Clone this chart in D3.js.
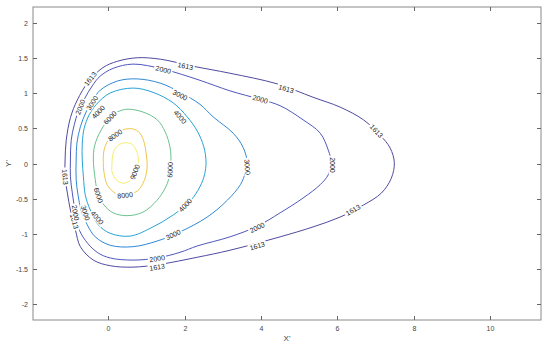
<!DOCTYPE html>
<html><head><meta charset="utf-8">
<script src="https://cdn.jsdelivr.net/npm/d3@7"></script>
<style>body{margin:0;background:#fff}svg{display:block}text{font-family:"Liberation Sans",Arial,sans-serif}</style>
</head><body><svg id="c" width="550" height="347"></svg>
<script>
// ---- data ----
const levels = [1613, 2000, 3000, 4000, 6000, 8000, 9000];
const xTicks = [0, 2, 4, 6, 8, 10];
const yTicks = [-2, -1.5, -1, -0.5, 0, 0.5, 1, 1.5, 2];
const yTickLabels = ["-2", "-1.5", "-1", "-0.5", "0", "0.5", "1", "1.5", "2"];

const c1613 = [[-1.13,0.05],[-1.10,0.33],[-0.99,0.65],[-0.81,0.90],[-0.52,1.16],[-0.14,1.36],[0.24,1.45],[0.76,1.50],[1.36,1.48],[2.22,1.38],[3.19,1.28],[4.42,1.13],[5.36,0.94],[6.07,0.80],[6.68,0.62],[7.12,0.40],[7.38,0.22],[7.49,0.01],[7.41,-0.21],[7.15,-0.42],[6.68,-0.59],[6.07,-0.76],[5.36,-0.90],[4.50,-1.04],[3.19,-1.23],[2.33,-1.33],[1.36,-1.43],[0.65,-1.47],[0.05,-1.45],[-0.39,-1.37],[-0.73,-1.18],[-0.86,-0.94],[-0.99,-0.66],[-1.07,-0.42],[-1.13,-0.19]];
const c2000 = [[-0.99,0.05],[-0.97,0.33],[-0.89,0.55],[-0.79,0.73],[-0.63,0.91],[-0.42,1.10],[-0.21,1.24],[0.13,1.35],[0.65,1.41],[1.43,1.34],[2.40,1.18],[3.19,1.03],[3.98,0.91],[4.50,0.82],[5.10,0.62],[5.55,0.43],[5.76,0.19],[5.84,0.01],[5.76,-0.16],[5.55,-0.30],[5.10,-0.49],[4.50,-0.70],[3.90,-0.89],[3.19,-1.04],[2.33,-1.17],[1.88,-1.26],[1.28,-1.34],[0.65,-1.37],[0.05,-1.34],[-0.29,-1.26],[-0.60,-1.09],[-0.79,-0.90],[-0.86,-0.70],[-0.94,-0.42],[-0.99,-0.19]];
const c3000 = [[-0.84,0.05],[-0.82,0.29],[-0.73,0.52],[-0.58,0.73],[-0.40,0.90],[-0.21,1.04],[0.24,1.17],[0.76,1.20],[1.36,1.14],[1.88,1.01],[2.40,0.84],[2.75,0.66],[3.27,0.43],[3.53,0.23],[3.64,0.01],[3.59,-0.13],[3.46,-0.30],[3.12,-0.52],[2.59,-0.76],[1.88,-0.97],[1.28,-1.10],[0.65,-1.18],[0.05,-1.16],[-0.34,-1.04],[-0.55,-0.87],[-0.71,-0.66],[-0.79,-0.45],[-0.84,-0.23]];
const c4000 = [[-0.68,0.05],[-0.68,0.29],[-0.63,0.50],[-0.50,0.69],[-0.31,0.84],[0.05,1.00],[0.65,1.07],[1.17,1.01],[1.70,0.86],[2.07,0.66],[2.33,0.46],[2.50,0.24],[2.56,0.02],[2.52,-0.16],[2.40,-0.33],[2.15,-0.53],[1.70,-0.73],[1.17,-0.90],[0.57,-1.03],[0.05,-0.99],[-0.26,-0.87],[-0.47,-0.66],[-0.60,-0.45],[-0.65,-0.19]];
const c6000 = [[-0.39,0.05],[-0.37,0.22],[-0.29,0.36],[-0.16,0.50],[0.05,0.65],[0.24,0.73],[0.49,0.77],[0.91,0.73],[1.28,0.62],[1.49,0.45],[1.62,0.22],[1.64,0.01],[1.59,-0.21],[1.49,-0.35],[1.28,-0.52],[0.91,-0.69],[0.49,-0.74],[0.13,-0.70],[-0.11,-0.59],[-0.26,-0.45],[-0.34,-0.23]];
const c8000 = [[-0.13,0.01],[-0.11,0.19],[0.00,0.33],[0.18,0.42],[0.39,0.48],[0.65,0.49],[0.83,0.43],[0.94,0.30],[0.99,0.15],[1.02,-0.02],[0.99,-0.16],[0.91,-0.28],[0.76,-0.39],[0.44,-0.45],[0.18,-0.42],[-0.03,-0.30],[-0.11,-0.13]];
const c9000 = [[0.10,0.01],[0.13,0.15],[0.24,0.25],[0.39,0.29],[0.60,0.28],[0.73,0.19],[0.79,0.05],[0.73,-0.12],[0.60,-0.23],[0.39,-0.28],[0.21,-0.23],[0.10,-0.12]];
const contourLines = [c1613, c2000, c3000, c4000, c6000, c8000, c9000];

const l1613 = [[-0.47,1.20],[2.02,1.38],[4.66,1.06],[7.02,0.46],[-1.13,-0.19],[-0.89,-0.82],[1.28,-1.47],[3.90,-1.17],[6.41,-0.66]];
const l2000 = [[-0.73,0.80],[1.44,1.33],[3.98,0.91],[5.86,-0.02],[3.90,-0.91],[1.28,-1.35],[-0.86,-0.70]];
const l3000 = [[-0.42,0.86],[1.88,0.97],[3.64,-0.05],[1.70,-1.01],[-0.60,-0.70]];
const l4000 = [[-0.26,0.73],[1.88,0.66],[2.02,-0.59],[-0.29,-0.77]];
const l6000 = [[0.05,0.65],[1.62,-0.09],[-0.26,-0.45]];
const l8000 = [[0.18,0.40],[0.44,-0.45]];
const l9000 = [[0.70,-0.12]];
const labelSets = [l1613, l2000, l3000, l4000, l6000, l8000, l9000];

// parula-like colours per level (as they appear on the rendered figure)
const levelColors = ["#4e4a9e", "#5057bb", "#2f88d6", "#26a3d6", "#6cc28e", "#f0c64e", "#f4ee72"];

// ---- drawing ----
const svg = d3.select("#c");
svg.append("rect").attr("width", 550).attr("height", 347).attr("fill", "#fff");
const L = 33, R = 541, T = 7, B = 320;
const x = d3.scaleLinear().domain([-1.97, 11.33]).range([L, R]);
const y = d3.scaleLinear().domain([-2.22, 2.22]).range([B, T]);

const line = d3.line().x(d => x(d[0])).y(d => y(d[1])).curve(d3.curveCatmullRomClosed.alpha(0.5));

const gLines = svg.append("g");
contourLines.forEach((pts, i) => {
  gLines.append("path").attr("d", line(pts)).attr("fill", "none")
    .attr("stroke", levelColors[i]).attr("stroke-width", 1);
});

// labels
const gLab = svg.append("g");
labelSets.forEach((set, i) => {
  const pts = contourLines[i].map(p => [x(p[0]), y(p[1])]);
  const n = pts.length;
  set.forEach(lp => {
    const px = x(lp[0]), py = y(lp[1]);
    let bi = 0, bd = Infinity;
    pts.forEach((p, k) => { const d = (p[0]-px)**2 + (p[1]-py)**2; if (d < bd) { bd = d; bi = k; } });
    const a = pts[(bi - 1 + n) % n], b = pts[(bi + 1) % n];
    let ang = Math.atan2(b[1]-a[1], b[0]-a[0]) * 180 / Math.PI;
    if (ang > 90) ang -= 180;
    if (ang <= -90) ang += 180;
    const g = gLab.append("g").attr("transform", `translate(${px},${py}) rotate(${ang})`);
    const txt = String(levels[i]);
    const w = txt.length * 3.9;
    g.append("rect").attr("x", -w/2 - 1.5).attr("y", -3.5).attr("width", w + 3).attr("height", 7).attr("fill", "#fff");
    g.append("text").attr("text-anchor", "middle").attr("dy", "0.35em")
      .attr("font-size", 7).attr("fill", "#1a1a1a").text(txt);
  });
});

// axes box and ticks
const ax = svg.append("g");
ax.append("rect").attr("x", L).attr("y", T).attr("width", R - L).attr("height", B - T)
  .attr("fill", "none").attr("stroke", "#8a8a8a").attr("stroke-width", 1);
xTicks.forEach(t => {
  const px = Math.round(x(t)) + 0.5;
  ax.append("line").attr("x1", px).attr("x2", px).attr("y1", B).attr("y2", B - 4).attr("stroke", "#666");
  ax.append("line").attr("x1", px).attr("x2", px).attr("y1", T).attr("y2", T + 4).attr("stroke", "#666");
  ax.append("text").attr("x", px).attr("y", B + 11).attr("text-anchor", "middle")
    .attr("font-size", 7).attr("fill", "#444").text(String(t));
});
yTicks.forEach((t, i) => {
  const py = Math.round(y(t)) + 0.5;
  ax.append("line").attr("x1", L).attr("x2", L + 4).attr("y1", py).attr("y2", py).attr("stroke", "#666");
  ax.append("line").attr("x1", R).attr("x2", R - 4).attr("y1", py).attr("y2", py).attr("stroke", "#666");
  ax.append("text").attr("x", L - 5).attr("y", py).attr("dy", "0.35em").attr("text-anchor", "end")
    .attr("font-size", 7).attr("fill", "#444").text(yTickLabels[i]);
});
ax.append("text").attr("x", (L + R) / 2).attr("y", 341).attr("text-anchor", "middle")
  .attr("font-size", 8).attr("fill", "#444").text("X'");
ax.append("text").attr("transform", `translate(11,${(T + B) / 2}) rotate(-90)`).attr("text-anchor", "middle")
  .attr("font-size", 8).attr("fill", "#444").text("Y'");
</script></body></html>
